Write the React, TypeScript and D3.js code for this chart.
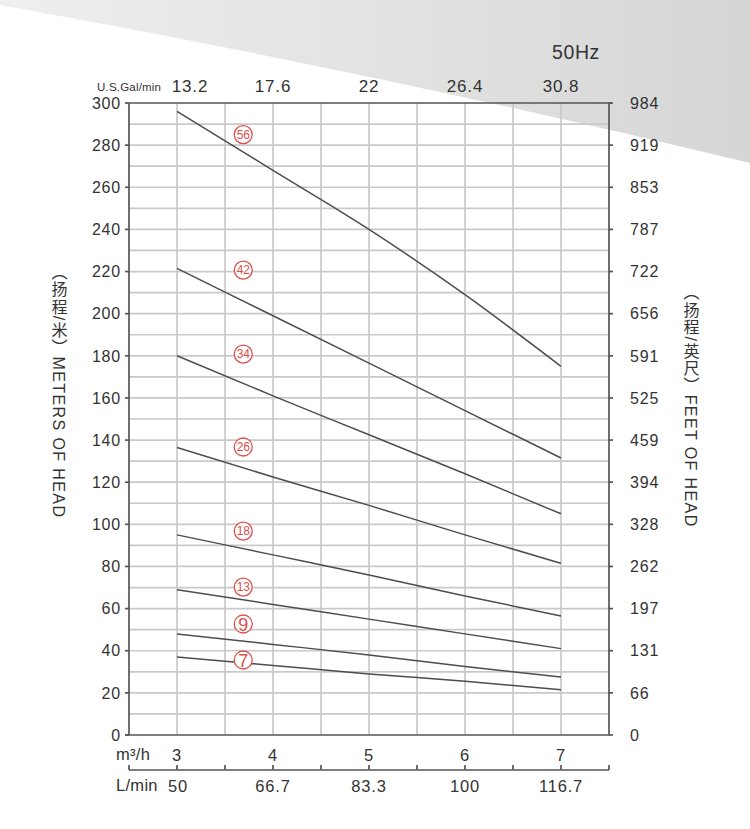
import * as d3 from 'd3'

// stage numbers of each curve
const stages = [56, 42, 34, 26, 18, 13, 9, 7]
// flow points (m³/h) where the heads were read
const flowPoints = [3, 4, 5, 6, 7]
// head (m) per stage at flowPoints
const heads: number[][] = [
    [296, 268, 240, 209, 175],
    [221.5, 199, 176.5, 154, 131.5],
    [180, 161, 142.5, 124, 105],
    [136.5, 122.5, 109, 95, 81.5],
    [95, 85.5, 76, 66, 56.5],
    [69, 62, 55, 48, 41],
    [48, 43, 38, 32.5, 27.5],
    [37, 33, 29, 25.5, 21.5],
]
// where each stage badge sits (head in m) at flow 3.69
const badgeFlow = 3.69
const badgeHeads = [285, 220.7, 180.8, 136.7, 96.8, 70.2, 52.7, 35.6]

const m3hTicks = [3, 4, 5, 6, 7]
const gpmLabels = ['13.2', '17.6', '22', '26.4', '30.8']
const lminLabels = ['50', '66.7', '83.3', '100', '116.7']
const meterTicks = d3.range(0, 301, 20)
const feetLabels = ['0', '66', '131', '197', '262', '328', '394', '459', '525', '591', '656', '722', '787', '853', '919', '984']

const W = 750
const H = 829
const font = '"Liberation Sans", Arial, sans-serif'
const ink = '#333'
const axisColor = '#555'
const gridColor = '#c9c9c9'
const red = '#dc504b'

const x = d3.scaleLinear().domain([2.5, 7.5]).range([129, 609])
const y = d3.scaleLinear().domain([0, 300]).range([735, 103])

const line = d3.line<[number, number]>()
    .x(d => x(d[0]))
    .y(d => y(d[1]))
    .curve(d3.curveMonotoneX)

const App = () => {
    const vGrid = d3.range(3, 7.01, 0.5)
    const hGrid = d3.range(10, 300, 10)
    const halfTicks = d3.range(2.5, 7.51, 0.5)
    const [x0, x1] = x.range()
    const yBottom = y(0)
    const yTop = y(300)
    const yL = 770

    return (
        <div style={{ position: 'absolute', left: 0, top: 0 }}>
            <svg width={W} height={H} style={{ display: 'block', background: '#fff' }}>
                <defs>
                    <linearGradient id="bg" x1="0" y1="0" x2="1" y2="0">
                        <stop offset="0" stopColor="#efefef" />
                        <stop offset="1" stopColor="#d6d6d6" />
                    </linearGradient>
                </defs>
                <path d={`M0,0 L${W},0 L${W},163 Q375,72 0,5 Z`} fill="url(#bg)" />

                {/* grid */}
                <g stroke={gridColor} strokeWidth={1.7}>
                    {vGrid.map(v => (
                        <line key={'v' + v} x1={x(v)} x2={x(v)} y1={yTop} y2={yBottom} />
                    ))}
                    {hGrid.map(v => (
                        <line key={'h' + v} x1={x0} x2={x1} y1={y(v)} y2={y(v)} />
                    ))}
                </g>

                {/* frame */}
                <g stroke={axisColor} strokeWidth={1.7} fill="none">
                    <line x1={x0} x2={x1 + 3} y1={yTop} y2={yTop} />
                    <line x1={x0 - 4} x2={x1} y1={yBottom} y2={yBottom} />
                    <line x1={x0} x2={x0} y1={yTop} y2={yBottom} />
                    <line x1={x1} x2={x1} y1={yTop} y2={yBottom} />
                    {meterTicks.map(v => (
                        <g key={'t' + v}>
                            <line x1={x0 - 4} x2={x0} y1={y(v)} y2={y(v)} />
                            <line x1={x1} x2={x1 + 4} y1={y(v)} y2={y(v)} />
                        </g>
                    ))}
                    <line x1={x0} x2={x1} y1={yL} y2={yL} />
                    {halfTicks.map(v => (
                        <line key={'l' + v} x1={x(v)} x2={x(v)} y1={yL - 5} y2={yL} />
                    ))}
                </g>

                {/* curves */}
                <g stroke="#4d4d4d" strokeWidth={1.5} fill="none">
                    {heads.map((hs, i) => (
                        <path key={stages[i]} d={line(flowPoints.map((f, j) => [f, hs[j]] as [number, number])) || ''} />
                    ))}
                </g>

                {/* stage badges */}
                {stages.map((s, i) => (
                    <g key={'b' + s} transform={`translate(${x(badgeFlow)},${y(badgeHeads[i])})`}>
                        <circle r={9} fill="#fff" stroke={red} strokeWidth={1.3} />
                        <text
                            textAnchor="middle"
                            dy={s < 10 ? '0.37em' : '0.36em'}
                            fontFamily={font}
                            fontSize={s < 10 ? 18 : 12}
                            letterSpacing={s < 10 ? 0 : -0.3}
                            fill={red}
                        >
                            {s}
                        </text>
                    </g>
                ))}

                {/* tick labels */}
                <g fontFamily={font} fill={ink} letterSpacing={0.8}>
                    {meterTicks.map(v => (
                        <text key={'ml' + v} x={x0 - 8} y={y(v)} dy="0.36em" textAnchor="end" fontSize={16}>
                            {v}
                        </text>
                    ))}
                    {meterTicks.map((v, i) => (
                        <text key={'fl' + v} x={x1 + 21} y={y(v)} dy="0.36em" textAnchor="start" fontSize={16}>
                            {feetLabels[i]}
                        </text>
                    ))}
                    {m3hTicks.map((v, i) => (
                        <text key={'g' + v} x={x(v) + (i === 0 ? 13 : 0)} y={92} textAnchor="middle" fontSize={17}>
                            {gpmLabels[i]}
                        </text>
                    ))}
                    {m3hTicks.map(v => (
                        <text key={'q' + v} x={x(v)} y={761} textAnchor="middle" fontSize={16.5}>
                            {v}
                        </text>
                    ))}
                    {m3hTicks.map((v, i) => (
                        <text key={'lm' + v} x={x(v) + (i === 0 ? 1 : 0)} y={792} textAnchor="middle" fontSize={16.5}>
                            {lminLabels[i]}
                        </text>
                    ))}
                    <text x={97} y={91} fontSize={11.5} letterSpacing={0.2}>U.S.Gal/min</text>
                    <text x={116} y={760} fontSize={16.5} letterSpacing={0.3}>m³/h</text>
                    <text x={116} y={791} fontSize={16.5} letterSpacing={0.3}>L/min</text>
                    <text x={552} y={59} fontSize={19.5} letterSpacing={0.6}>50Hz</text>
                </g>

                {/* axis titles, vertical */}
                <text
                    x={58}
                    y={391}
                    textAnchor="middle"
                    fontFamily={`${font}, "Noto Sans CJK SC"`}
                    fontSize={16}
                    letterSpacing={1.4}
                    fill={ink}
                    style={{ writingMode: 'vertical-rl' }}
                >
                    （扬程/米）METERS OF HEAD
                </text>
                <text
                    x={690}
                    y={406}
                    textAnchor="middle"
                    fontFamily={`${font}, "Noto Sans CJK SC"`}
                    fontSize={16}
                    letterSpacing={1.4}
                    fill={ink}
                    style={{ writingMode: 'vertical-rl' }}
                >
                    （扬程/英尺）FEET OF HEAD
                </text>
            </svg>
        </div>
    )
}

export default App
